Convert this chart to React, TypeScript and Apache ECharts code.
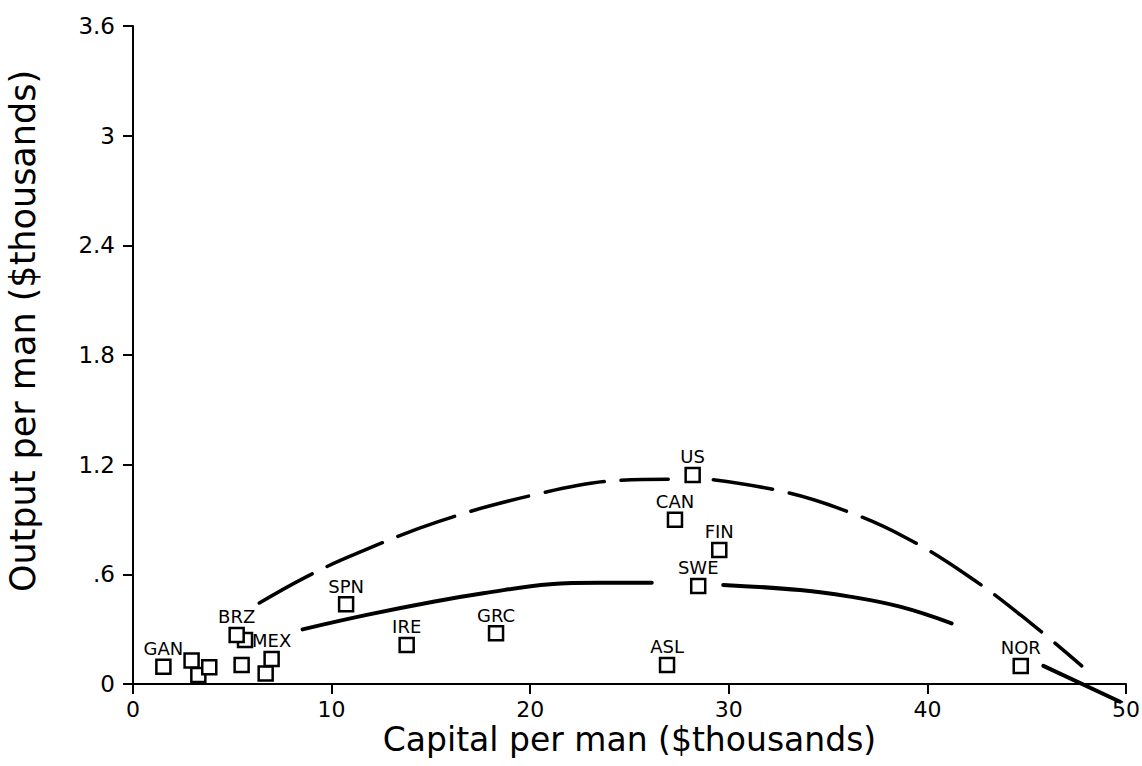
import React, { useEffect, useRef } from "react";
import * as echarts from "echarts";

// Countries with a printed code next to their marker
const countryCodes = ["GAN", "BRZ", "MEX", "SPN", "IRE", "GRC", "ASL", "US", "CAN", "FIN", "SWE", "NOR"];
const countryCapital = [1.53, 5.22, 6.98, 10.73, 13.78, 18.28, 26.89, 28.18, 27.29, 29.52, 28.46, 44.7];
const countryOutput = [0.095, 0.268, 0.137, 0.436, 0.213, 0.277, 0.104, 1.144, 0.898, 0.733, 0.536, 0.099];

// Unlabelled observations in the low-capital cluster
const otherCapital = [2.95, 3.29, 3.84, 5.47, 5.64, 6.68];
const otherOutput = [0.128, 0.049, 0.091, 0.104, 0.241, 0.058];

// Upper (dashed) fitted curve; null marks a break in the line
const upperCapital = [6.36, 8.7, 11.09, 15.37, 20.16, 24.35, 26.95, null, 29.22, 32.74, 35.68, 38.87, 42.11, 45.17, 47.77];
const upperOutput = [0.443, 0.585, 0.706, 0.888, 1.034, 1.113, 1.12, null, 1.117, 1.053, 0.956, 0.803, 0.587, 0.336, 0.099];

// Lower (solid) fitted curve; null marks a break in the line
const lowerCapital = [8.54, 11.77, 15.12, 17.64, 21.0, 23.5, 26.12, null, 29.72, 33.59, 36.1, 38.62, 41.22, null, 45.84, 49.7];
const lowerOutput = [0.299, 0.378, 0.45, 0.496, 0.546, 0.554, 0.554, null, 0.542, 0.514, 0.478, 0.423, 0.332, null, 0.099, -0.097];

const xTicks = { min: 0, max: 50, interval: 10 };
const yTicks = { min: 0, max: 3.6, interval: 0.6 };

const FONT = "DejaVu Sans";

function toLineData(xs: (number | null)[], ys: (number | null)[]) {
  return xs.map((x, i) => (x === null || ys[i] === null ? ["-", "-"] : [x, ys[i]]));
}

function formatY(v: number) {
  if (v === 0) return "0";
  const s = String(Math.round(v * 10) / 10);
  return s.replace(/^0\./, ".");
}

export default function App() {
  const ref = useRef<HTMLDivElement>(null);

  useEffect(() => {
    if (!ref.current) return;
    const chart = echarts.init(ref.current, null, { renderer: "svg" });

    const squareStyle = {
      color: "#ffffff",
      borderColor: "#000000",
      borderWidth: 2.5,
      opacity: 1,
    };

    chart.setOption({
      animation: false,
      backgroundColor: "#ffffff",
      grid: { left: 133, right: 16, top: 26, bottom: 82, containLabel: false, outerBoundsMode: "none" },
      xAxis: {
        type: "value",
        min: xTicks.min,
        max: xTicks.max,
        interval: xTicks.interval,
        name: "Capital per man ($thousands)",
        nameLocation: "middle",
        nameGap: 41,
        nameMoveOverlap: false,
        nameTextStyle: { fontFamily: FONT, fontSize: 33, lineHeight: 28, color: "#000" },
        axisLine: { show: true, lineStyle: { color: "#000", width: 2 } },
        axisTick: { show: true, length: 10, lineStyle: { color: "#000", width: 2 } },
        axisLabel: { fontFamily: FONT, fontSize: 22, lineHeight: 20, color: "#000", margin: 15 },
        splitLine: { show: false },
      },
      yAxis: {
        type: "value",
        min: yTicks.min,
        max: yTicks.max,
        interval: yTicks.interval,
        name: "Output per man ($thousands)",
        nameLocation: "middle",
        nameGap: 93,
        nameRotate: 90,
        nameMoveOverlap: false,
        nameTextStyle: { fontFamily: FONT, fontSize: 35, color: "#000", padding: [0, 0, 0, 48] },
        axisLine: { show: true, lineStyle: { color: "#000", width: 2 } },
        axisTick: { show: true, length: 10, lineStyle: { color: "#000", width: 2 } },
        axisLabel: { fontFamily: FONT, fontSize: 23, color: "#000", margin: 18, formatter: formatY },
        splitLine: { show: false },
      },
      series: [
        {
          type: "line",
          data: toLineData(upperCapital, upperOutput),
          smooth: 0.4,
          showSymbol: false,
          connectNulls: false,
          lineStyle: { color: "#000", width: 3.5, type: [60, 17], cap: "round", opacity: 1 },
          silent: true,
          z: 1,
        },
        {
          type: "line",
          data: toLineData(lowerCapital, lowerOutput),
          smooth: 0.4,
          showSymbol: false,
          connectNulls: false,
          clip: false,
          lineStyle: { color: "#000", width: 4, type: "solid", cap: "round", opacity: 1 },
          silent: true,
          z: 1,
        },
        {
          type: "scatter",
          symbol: "rect",
          symbolSize: 14,
          itemStyle: squareStyle,
          data: otherCapital.map((x, i) => [x, otherOutput[i]]),
          z: 3,
        },
        {
          type: "scatter",
          symbol: "rect",
          symbolSize: 14,
          itemStyle: squareStyle,
          label: {
            show: true,
            position: "top",
            distance: 1,
            formatter: "{b}",
            fontFamily: FONT,
            fontSize: 18,
            color: "#000",
            opacity: 1,
          },
          data: countryCodes.map((name, i) => ({ name, value: [countryCapital[i], countryOutput[i]] })),
          z: 4,
        },
      ],
    });

    return () => chart.dispose();
  }, []);

  return (
    <div
      ref={ref}
      style={{ position: "fixed", left: 0, top: 0, width: 1142, height: 766, background: "#fff" }}
    />
  );
}
